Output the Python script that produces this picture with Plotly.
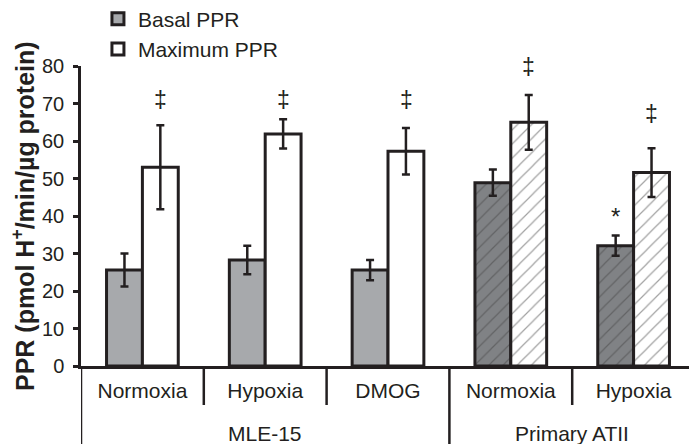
import plotly.graph_objects as go

# ---- data ----
groups = ["MLE-15", "MLE-15", "MLE-15", "Primary ATII", "Primary ATII"]
conditions = ["Normoxia", "Hypoxia", "DMOG", "Normoxia", "Hypoxia"]
basal = [25.6, 28.3, 25.6, 48.9, 32.1]
basal_err = [4.4, 3.8, 2.7, 3.5, 2.7]
maximum = [53.0, 61.9, 57.3, 65.0, 51.6]
maximum_err = [11.2, 3.9, 6.2, 7.3, 6.5]
sig_basal = ["", "", "", "", "*"]
sig_basal_y = [None, None, None, None, 40.0]
sig_max = ["‡", "‡", "‡", "‡", "‡"]
sig_max_y = [71.0, 71.0, 71.0, 79.7, 67.3]

# ---- styles ----
FONT = "Liberation Sans, Arial, sans-serif"
TXT = "#231f20"
basal_fill = ["#a7a9ac" if g == "MLE-15" else "#808285" for g in groups]
max_fill = ["#ffffff"] * len(groups)
pat_shape = ["" if g == "MLE-15" else "/" for g in groups]
basal_fg = ["#b8b8b8"] * len(groups)
max_fg = ["#cccccc"] * len(groups)

x = list(range(len(conditions)))

fig = go.Figure()
fig.add_trace(go.Bar(
    x=x, y=basal, name="Basal PPR", legendgroup="a",
    marker=dict(color=basal_fill, line=dict(color=TXT, width=3),
                pattern=dict(shape=pat_shape, fgcolor=basal_fg, size=10, solidity=0.12, fillmode="overlay")),
    error_y=dict(type="data", array=basal_err, color=TXT, thickness=2.5, width=4),
))
fig.add_trace(go.Bar(
    x=x, y=maximum, name="Maximum PPR", legendgroup="b",
    marker=dict(color=max_fill, line=dict(color=TXT, width=3),
                pattern=dict(shape=pat_shape, fgcolor=max_fg, size=10, solidity=0.12, fillmode="overlay")),
    error_y=dict(type="data", array=maximum_err, color=TXT, thickness=2.5, width=4),
))

BAR_HALF = 18  # pixel offset of each bar centre from category centre
for i in x:
    fig.add_annotation(x=i, y=sig_max_y[i], text=sig_max[i], showarrow=False, xshift=BAR_HALF,
                       font=dict(size=23, color=TXT, family=FONT), yanchor="middle")
    if sig_basal[i]:
        fig.add_annotation(x=i, y=sig_basal_y[i], text=sig_basal[i], showarrow=False, xshift=-BAR_HALF,
                           font=dict(size=24, color=TXT, family=FONT), yanchor="middle")

# category separators
PLOT_H = 300
inner_depth = -39 / PLOT_H
outer_depth = -90 / PLOT_H
bounds = [-0.5] + [i + 0.5 for i in x]
for k, b in enumerate(bounds):
    outer = k == 0 or k == len(bounds) - 1 or groups[k - 1] != groups[k]
    fig.add_shape(type="line", xref="x", yref="paper", x0=b, x1=b, y0=0,
                  y1=outer_depth if outer else inner_depth,
                  line=dict(color=TXT, width=2.5))

# group labels
for g in dict.fromkeys(groups):
    idx = [i for i, gg in enumerate(groups) if gg == g]
    fig.add_annotation(x=sum(idx) / len(idx), xref="x", y=0, yref="paper", yshift=-67,
                       text=g, showarrow=False, yanchor="middle",
                       font=dict(size=21, color=TXT, family=FONT))

# y title
fig.add_annotation(x=0, xref="paper", xshift=-58, y=0.5, yref="paper", textangle=-90,
                   text="<b>PPR (pmol H<sup>+</sup>/min/µg protein)</b>", showarrow=False,
                   xanchor="center", yanchor="middle",
                   font=dict(size=25, color=TXT, family=FONT))

# the page body adds an 8px margin, so the figure is 8px smaller on each axis
fig.update_layout(
    width=689, height=436,
    margin=dict(l=73, r=2, t=58, b=78, autoexpand=False),
    paper_bgcolor="white", plot_bgcolor="white",
    barmode="group", bargap=0.416, bargroupgap=0,
    font=dict(family=FONT, color=TXT, size=20),
    showlegend=True,
    legend=dict(x=0.0276, y=1.225, yref="paper", xanchor="left", yanchor="top",
                font=dict(size=21, color=TXT, family=FONT), tracegroupgap=2,
                bgcolor="rgba(0,0,0,0)", traceorder="normal"),
    xaxis=dict(range=[-0.5, len(x) - 0.5], tickvals=x, ticktext=conditions, ticks="",
               showline=True, linecolor=TXT, linewidth=2.5, showgrid=False, zeroline=False,
               tickfont=dict(size=21, color=TXT, family=FONT), ticklabelstandoff=4),
    yaxis=dict(range=[0, 80], dtick=10, ticks="outside", ticklen=5, tickwidth=2.5, tickcolor=TXT,
               showline=True, linecolor=TXT, linewidth=2.5, showgrid=False, zeroline=False,
               tickfont=dict(size=20, color=TXT, family=FONT), ticklabelstandoff=5),
)

fig.write_html("out.html")
